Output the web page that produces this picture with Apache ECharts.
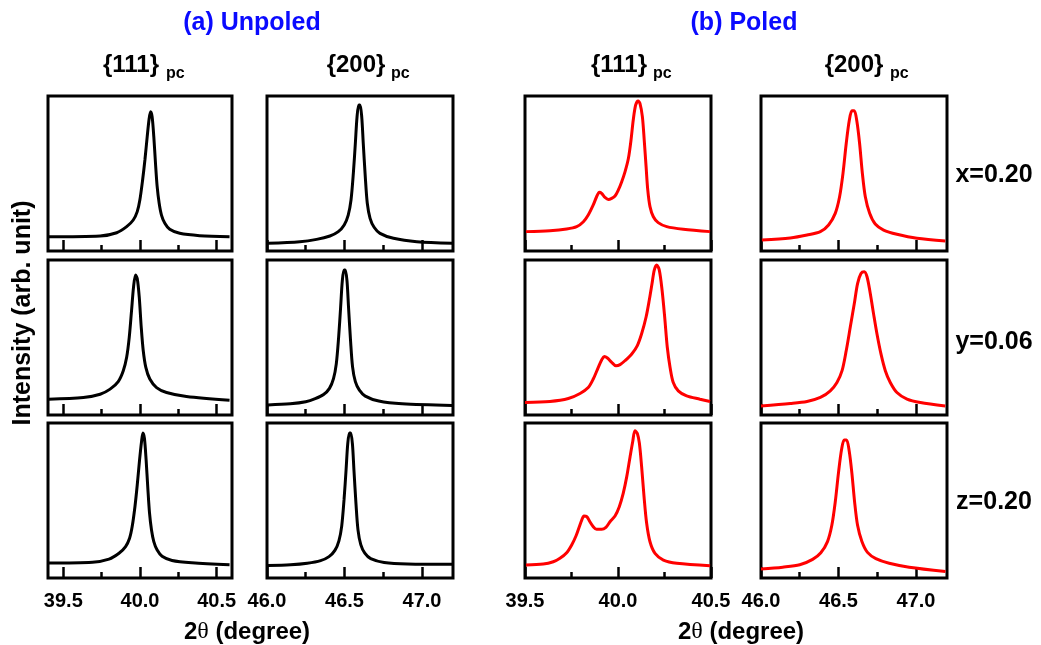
<!DOCTYPE html>
<html>
<head>
<meta charset="utf-8">
<title>XRD profiles, unpoled vs poled</title>
<script src="https://cdn.jsdelivr.net/npm/echarts@6/dist/echarts.min.js"></script>
<style>
  html, body { margin: 0; padding: 0; background: #fff; }
  #chart { width: 1041px; height: 645px; }
</style>
</head>
<body>
<div id="chart"></div>
<script>
// axis ranges and ticks (2theta, degree)
const range111Unpoled = [39.4, 40.6];
const range111Poled = [39.5, 40.5];
const range200 = [46.0, 47.2];
const major111 = [39.5, 40.0, 40.5];
const minor111 = [39.75, 40.25];
const major200 = [46.0, 46.5, 47.0];
const minor200 = [46.25, 46.75];
const rowLabels = ["x=0.20", "y=0.06", "z=0.20"];

// x=0.20
const unpoled111X = [[39.404,0.092],[39.74,0.097],[39.848,0.118],[39.913,0.157],[39.956,0.2],[39.982,0.254],[39.999,0.329],[40.017,0.458],[40.032,0.587],[40.047,0.738],[40.06,0.856],[40.069,0.899],[40.079,0.867],[40.09,0.738],[40.101,0.566],[40.112,0.415],[40.125,0.308],[40.14,0.232],[40.162,0.179],[40.194,0.14],[40.259,0.114],[40.389,0.099],[40.584,0.092]];
const unpoled200X = [[46.006,0.05],[46.212,0.06],[46.32,0.075],[46.406,0.097],[46.46,0.125],[46.498,0.168],[46.524,0.232],[46.542,0.329],[46.557,0.501],[46.57,0.695],[46.581,0.867],[46.592,0.942],[46.6,0.942],[46.611,0.867],[46.621,0.695],[46.634,0.48],[46.647,0.308],[46.665,0.211],[46.691,0.153],[46.729,0.114],[46.816,0.082],[46.967,0.06],[47.194,0.05]];
const poled111X = [[39.505,0.125],[39.634,0.131],[39.724,0.142],[39.778,0.157],[39.814,0.189],[39.84,0.232],[39.867,0.297],[39.885,0.35],[39.9,0.379],[39.912,0.372],[39.93,0.346],[39.948,0.333],[39.966,0.34],[39.984,0.355],[40.002,0.394],[40.02,0.447],[40.038,0.512],[40.056,0.598],[40.07,0.716],[40.082,0.845],[40.095,0.942],[40.108,0.968],[40.118,0.953],[40.131,0.867],[40.141,0.716],[40.151,0.544],[40.16,0.394],[40.172,0.286],[40.19,0.221],[40.216,0.183],[40.262,0.157],[40.351,0.14],[40.495,0.125]];
const poled200X = [[46.006,0.071],[46.189,0.084],[46.297,0.103],[46.383,0.125],[46.436,0.168],[46.479,0.243],[46.507,0.35],[46.529,0.501],[46.55,0.695],[46.57,0.845],[46.587,0.905],[46.602,0.905],[46.619,0.834],[46.636,0.695],[46.654,0.501],[46.673,0.35],[46.701,0.243],[46.737,0.174],[46.791,0.135],[46.877,0.108],[47.006,0.082],[47.189,0.065]];

// y=0.06
const unpoled111Y = [[39.404,0.102],[39.631,0.113],[39.74,0.134],[39.805,0.167],[39.858,0.216],[39.891,0.286],[39.913,0.372],[39.93,0.502],[39.945,0.675],[39.958,0.827],[39.971,0.903],[39.982,0.881],[39.995,0.762],[40.008,0.567],[40.021,0.416],[40.038,0.307],[40.064,0.232],[40.108,0.177],[40.173,0.145],[40.303,0.119],[40.584,0.095]];
const unpoled200Y = [[46.006,0.065],[46.15,0.072],[46.25,0.085],[46.311,0.105],[46.365,0.132],[46.403,0.172],[46.429,0.235],[46.447,0.33],[46.462,0.5],[46.475,0.695],[46.486,0.867],[46.497,0.935],[46.505,0.935],[46.516,0.867],[46.526,0.695],[46.539,0.48],[46.552,0.31],[46.57,0.215],[46.596,0.16],[46.634,0.122],[46.721,0.09],[46.872,0.072],[47.194,0.062]];
const poled111Y = [[39.5,0.08],[39.634,0.087],[39.733,0.106],[39.796,0.139],[39.84,0.177],[39.867,0.232],[39.894,0.307],[39.912,0.355],[39.926,0.377],[39.943,0.368],[39.966,0.34],[39.989,0.318],[40.011,0.325],[40.038,0.351],[40.074,0.394],[40.104,0.448],[40.127,0.524],[40.151,0.632],[40.168,0.74],[40.183,0.848],[40.195,0.935],[40.208,0.968],[40.222,0.935],[40.237,0.805],[40.251,0.632],[40.265,0.437],[40.28,0.307],[40.297,0.21],[40.324,0.156],[40.369,0.123],[40.441,0.102],[40.495,0.087]];
const poled200Y = [[46.0,0.058],[46.189,0.074],[46.297,0.087],[46.383,0.113],[46.447,0.156],[46.49,0.21],[46.523,0.286],[46.55,0.416],[46.576,0.567],[46.602,0.719],[46.623,0.848],[46.645,0.913],[46.666,0.924],[46.684,0.892],[46.705,0.784],[46.726,0.654],[46.748,0.524],[46.774,0.394],[46.802,0.286],[46.834,0.21],[46.877,0.145],[46.942,0.102],[47.028,0.08],[47.189,0.058]];

// z=0.20
const unpoled111Z = [[39.404,0.097],[39.69,0.102],[39.798,0.122],[39.863,0.16],[39.906,0.203],[39.932,0.257],[39.949,0.332],[39.967,0.46],[39.982,0.6],[39.997,0.76],[40.01,0.88],[40.019,0.935],[40.029,0.9],[40.04,0.76],[40.051,0.58],[40.062,0.42],[40.075,0.31],[40.09,0.235],[40.112,0.18],[40.144,0.14],[40.209,0.113],[40.339,0.098],[40.584,0.085]];
const unpoled200Z = [[46.006,0.08],[46.152,0.085],[46.26,0.095],[46.346,0.112],[46.40,0.138],[46.438,0.178],[46.464,0.24],[46.482,0.335],[46.497,0.505],[46.51,0.695],[46.521,0.867],[46.532,0.935],[46.54,0.935],[46.551,0.867],[46.561,0.695],[46.574,0.48],[46.587,0.31],[46.605,0.215],[46.631,0.16],[46.669,0.125],[46.756,0.1],[46.907,0.09],[47.194,0.088]];
const poled111Z = [[39.505,0.084],[39.598,0.09],[39.652,0.105],[39.688,0.127],[39.724,0.163],[39.751,0.213],[39.774,0.271],[39.792,0.331],[39.805,0.374],[39.817,0.4],[39.832,0.396],[39.849,0.363],[39.867,0.331],[39.885,0.314],[39.912,0.314],[39.935,0.327],[39.957,0.363],[39.984,0.4],[40.007,0.46],[40.028,0.546],[40.047,0.654],[40.065,0.783],[40.079,0.879],[40.091,0.95],[40.104,0.933],[40.115,0.869],[40.127,0.718],[40.14,0.525],[40.154,0.353],[40.172,0.234],[40.199,0.159],[40.244,0.116],[40.316,0.095],[40.495,0.079]];
const poled200Z = [[46.0,0.058],[46.14,0.07],[46.25,0.085],[46.333,0.12],[46.386,0.163],[46.429,0.235],[46.457,0.34],[46.479,0.49],[46.5,0.68],[46.52,0.83],[46.537,0.89],[46.552,0.89],[46.569,0.82],[46.586,0.68],[46.604,0.49],[46.623,0.34],[46.651,0.235],[46.687,0.165],[46.741,0.125],[46.827,0.095],[46.956,0.07],[47.19,0.042]];

const panels = [
  [unpoled111X, unpoled200X, poled111X, poled200X],
  [unpoled111Y, unpoled200Y, poled111Y, poled200Y],
  [unpoled111Z, unpoled200Z, poled111Z, poled200Z],
];

// column / row placement
const cols = [
  { left: 48, width: 184, range: range111Unpoled, major: major111, minor: minor111, color: "#000" },
  { left: 267, width: 186, range: range200, major: major200, minor: minor200, color: "#000" },
  { left: 525, width: 186, range: range111Poled, major: major111, minor: minor111, color: "#ff0000" },
  { left: 761, width: 186, range: range200, major: major200, minor: minor200, color: "#ff0000" },
];
const rowTops = [96, 260, 423];
const rowH = 155;

const FONT = "'Liberation Sans', Arial, sans-serif";

const chart = echarts.init(document.getElementById("chart"));

let grid = [], xAxis = [], yAxis = [], series = [];
rowTops.forEach((top, r) => {
  cols.forEach((c, ci) => {
    const gi = grid.length;
    grid.push({
      left: c.left, top: top, width: c.width, height: rowH,
      show: true, borderColor: "#000", borderWidth: 3,
      outerBoundsMode: "none",
    });
    // major ticks + labels
    xAxis.push({
      gridIndex: gi, type: "value", position: "bottom",
      min: c.range[0], max: c.range[1],
      axisLine: { show: false, onZero: false },
      splitLine: { show: false },
      axisTick: { show: true, inside: true, length: 11, customValues: c.major,
        lineStyle: { color: "#000", width: 2.5 } },
      axisLabel: { show: r === 2, customValues: c.major, margin: 13,
        showMinLabel: true, showMaxLabel: true,
        formatter: (v) => v.toFixed(1),
        color: "#000", fontSize: 20, fontWeight: "bold", fontFamily: FONT },
    });
    // minor ticks
    xAxis.push({
      gridIndex: gi, type: "value", position: "bottom",
      min: c.range[0], max: c.range[1],
      axisLine: { show: false, onZero: false },
      splitLine: { show: false },
      axisTick: { show: true, inside: true, length: 6, customValues: c.minor,
        lineStyle: { color: "#000", width: 2.5 } },
      axisLabel: { show: false },
    });
    yAxis.push({
      gridIndex: gi, type: "value", min: 0, max: 1, show: false,
    });
    series.push({
      type: "line",
      xAxisIndex: gi * 2, yAxisIndex: gi,
      data: panels[r][ci],
      showSymbol: false,
      smooth: 0.3,
      lineStyle: { color: c.color, width: 3 },
      silent: true,
    });
  });
});

const txt = (text, x, y, font, fill, align) => ({
  type: "text", x: x, y: y, silent: true,
  style: { text: text, font: font, fill: fill || "#000",
    align: align || "center", textAlign: align || "center",
    verticalAlign: "middle", textVerticalAlign: "middle" },
});

const graphic = [
  txt("(a) Unpoled", 252, 23, "bold 25px " + FONT, "#0a0aff"),
  txt("(b) Poled", 744, 23, "bold 25px " + FONT, "#0a0aff"),
  txt("{111}", 131, 65, "bold 24px " + FONT),
  txt("pc", 166, 74, "bold 16px " + FONT, "#000", "left"),
  txt("{200}", 356, 65, "bold 24px " + FONT),
  txt("pc", 391, 74, "bold 16px " + FONT, "#000", "left"),
  txt("{111}", 619, 65, "bold 24px " + FONT),
  txt("pc", 653, 74, "bold 16px " + FONT, "#000", "left"),
  txt("{200}", 854, 65, "bold 24px " + FONT),
  txt("pc", 890, 74, "bold 16px " + FONT, "#000", "left"),
];
rowLabels.forEach((lab, i) => {
  graphic.push(txt(lab, 994, [175, 342, 502][i], "bold 25px " + FONT));
});
// x axis titles
[247, 741].forEach((cx) => {
  graphic.push({
    type: "text", x: cx, y: 632, silent: true,
    style: {
      text: "{b|2}{t|θ}{b| (degree)}",
      align: "center", textAlign: "center",
      verticalAlign: "middle", textVerticalAlign: "middle",
      rich: {
        b: { font: "bold 24px " + FONT, fill: "#000" },
        t: { font: "24px 'Liberation Serif', serif", fill: "#000" },
      },
    },
  });
});
// y axis title
graphic.push({
  type: "text", x: 23, y: 313, rotation: Math.PI / 2, silent: true,
  style: { text: "Intensity (arb. unit)", font: "bold 25px " + FONT, fill: "#000",
    align: "center", textAlign: "center",
    verticalAlign: "middle", textVerticalAlign: "middle" },
});

chart.setOption({
  animation: false,
  backgroundColor: "#fff",
  grid: grid,
  xAxis: xAxis,
  yAxis: yAxis,
  series: series,
  graphic: graphic,
});
</script>
</body>
</html>
